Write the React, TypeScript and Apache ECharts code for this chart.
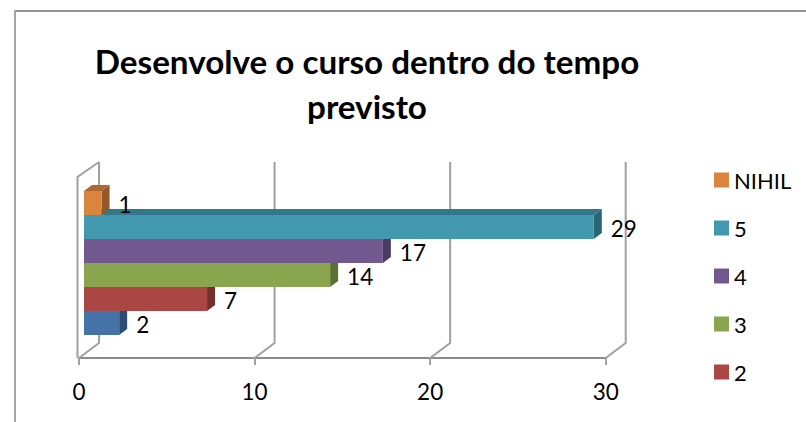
import React, { useEffect, useRef } from "react";
import * as echarts from "echarts";

const titleText = "Desenvolve o curso dentro do tempo\nprevisto";
const seriesNames = ["1", "2", "3", "4", "5", "NIHIL"];
const seriesValues = [2, 7, 14, 17, 29, 1];
const legendNames = ["NIHIL", "5", "4", "3", "2"];
const faceColors = ["#4572A7", "#AA4643", "#89A54E", "#71588F", "#4198AF", "#DB843D"];
const sideColors = ["#2F4D72", "#722F2D", "#5C6F34", "#4B3B60", "#2C6676", "#935929"];
const topColors = ["#375A85", "#873735", "#6D7F3D", "#594671", "#33788A", "#AD6830"];
const axisTicks = [0, 10, 20, 30];
const FONT = "Lato";
const WALL = "#A0A0A0";
const DX = 8;
const DY = 6;

function renderBar(i: number) {
  return (params: any, api: any) => {
    const v = api.value(0);
    const start = api.coord([0, api.value(1)]);
    const end = api.coord([v, api.value(1)]);
    const h = api.size([0, 1])[1];
    const x0 = start[0];
    const x1 = end[0];
    const yT = end[1] - h / 2;
    const yB = end[1] + h / 2;
    return {
      type: "group",
      children: [
        { type: "polygon", shape: { points: [[x0, yT], [x0 + DX, yT - DY], [x1 + DX, yT - DY], [x1, yT]] }, style: { fill: topColors[i] } },
        { type: "polygon", shape: { points: [[x1, yT], [x1 + DX, yT - DY], [x1 + DX, yB - DY], [x1, yB]] }, style: { fill: sideColors[i] } },
        { type: "rect", shape: { x: x0, y: yT, width: x1 - x0, height: h }, style: { fill: faceColors[i] } },
        { type: "text", x: x1 + DX + 9, y: end[1] + 1, style: { text: String(v), font: `22.5px ${FONT}`, fill: "#000", align: "left", verticalAlign: "middle" } },
      ],
    };
  };
}

function renderWall(params: any, api: any) {
  const v = api.value(0);
  const b = api.coord([v, 0]);
  const t = api.coord([v, 1]);
  const children: any[] = [
    { type: "polyline", shape: { points: [[b[0], b[1]], [b[0] + 20, b[1] - 15], [b[0] + 20, t[1] - 15]] }, style: { stroke: WALL, lineWidth: 2, fill: "none" } },
  ];
  if (v === 0) {
    children.push({
      type: "polyline",
      shape: { points: [[b[0] + 20, t[1] - 15], [b[0] - 1.5, t[1]], [b[0] - 1.5, b[1]]] },
      style: { stroke: WALL, lineWidth: 2, fill: "none" },
    });
  }
  return { type: "group", children };
}

export default function App() {
  const ref = useRef<HTMLDivElement>(null);
  useEffect(() => {
    document.body.style.margin = "0";
    const chart = echarts.init(ref.current!, undefined, { renderer: "svg" });
    chart.setOption({
      animation: false,
      backgroundColor: "#fff",
      title: {
        text: titleText,
        left: 362,
        top: 33,
        textAlign: "center",
        textStyle: { fontFamily: FONT, fontWeight: "bold", fontSize: 33.2, lineHeight: 45, color: "#000" },
      },
      legend: {
        orient: "vertical",
        left: 709,
        top: 164,
        itemWidth: 15,
        itemHeight: 15,
        itemGap: 26,
        data: legendNames,
        icon: "rect",
        textStyle: { fontFamily: FONT, fontSize: 22, color: "#000" },
      },
      grid: [
        { left: 79, width: 526.7, top: 177, height: 181 },
        { left: 84, width: 527.4, top: 191, height: 144 },
      ],
      xAxis: [
        {
          gridIndex: 0,
          type: "value",
          min: 0,
          max: 30,
          interval: 10,
          splitLine: { show: false },
          axisLine: { show: true, lineStyle: { color: "#8C8C8C", width: 2 } },
          axisTick: { show: true, length: 7, lineStyle: { color: "#A0A0A0", width: 2 } },
          axisLabel: { fontFamily: FONT, fontSize: 22.5, color: "#000", margin: 22 },
        },
        { gridIndex: 1, type: "value", min: 0, max: 30, show: false },
      ],
      yAxis: [
        { gridIndex: 0, type: "value", min: 0, max: 1, show: false },
        { gridIndex: 1, type: "category", data: seriesNames, show: false },
      ],
      series: [
        {
          type: "custom",
          name: "wall",
          xAxisIndex: 0,
          yAxisIndex: 0,
          silent: true,
          renderItem: renderWall,
          data: axisTicks.map((t) => [t]),
          encode: { x: 0 },
          z: 1,
        },
        ...seriesNames.map((name, i) => ({
          type: "custom",
          name,
          xAxisIndex: 1,
          yAxisIndex: 1,
          renderItem: renderBar(i),
          itemStyle: { color: faceColors[i] },
          data: [[seriesValues[i], name]],
          encode: { x: 0, y: 1 },
          z: 2 + i,
        })),
      ],
      graphic: [
        { type: "line", shape: { x1: 15, y1: 11, x2: 806, y2: 11 }, style: { stroke: "#949494", lineWidth: 2 } },
        { type: "line", shape: { x1: 15, y1: 10, x2: 15, y2: 422 }, style: { stroke: "#A6A6A6", lineWidth: 2 } },
      ],
    });
    return () => chart.dispose();
  }, []);
  return <div ref={ref} style={{ width: 806, height: 422 }} />;
}
